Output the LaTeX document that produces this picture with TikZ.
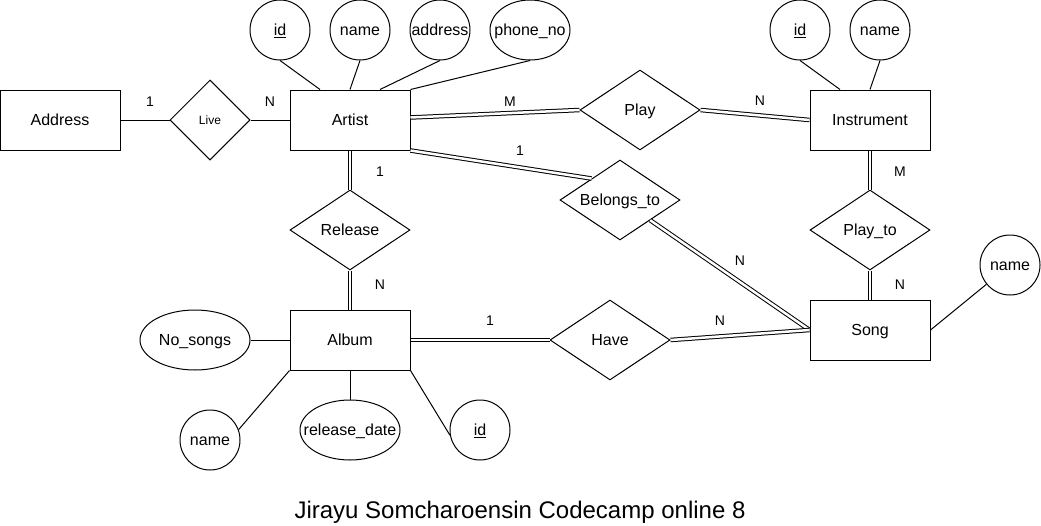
\documentclass[tikz,border=0pt]{standalone}
\usepackage{fontspec}
\setmainfont{Liberation Sans}
\usetikzlibrary{shapes.geometric,calc}
\begin{document}
\begin{tikzpicture}[x=1pt,y=-1pt,line width=1pt,
        txt/.style 2 args={font=\fontsize{#1}{18}\selectfont, text height=#2, text depth=0pt},
        entity/.style={draw, rectangle, minimum width=120pt, minimum height=60pt, inner sep=0pt, txt={16}{11.2pt}},
        attr/.style={draw, ellipse, minimum width=60pt, minimum height=60pt, inner sep=0pt, label={[txt={16}{11.2pt}, inner sep=0pt]center:#1}},
        rel/.style={draw, diamond, shape aspect=1.5, minimum width=120pt, minimum height=80pt, inner sep=0pt, txt={16}{11.2pt}},
        card/.style={inner sep=0pt, txt={14}{9.8pt}},
        dbl/.style={double, double distance=2.5pt}]
        \useasboundingbox (0,0) rectangle (1041,525);
        % Entidades
        \node[entity] (address) at (60,120) {Address};
        \node[entity] (artist) at (350,120) {Artist};
        \node[entity] (instrument) at (870,120) {Instrument};
        \node[entity] (album) at (350,340) {Album};
        \node[entity] (song) at (870,330) {Song};
        % Relaciones
        \node[rel, minimum width=80pt, txt={12}{8.4pt}] (live) at (210,120) {Live};
        \node[rel] (play) at (640,110) {Play};
        \node[rel] (belongsTo) at (620,200) {Belongs\_to};
        \node[rel] (release) at (350,230) {Release};
        \node[rel] (playTo) at (870,230) {Play\_to};
        \node[rel] (have) at (610,340) {Have};
        % Atributos
        \node[attr=\underline{id}] (artistId) at (280,30) {};
        \node[attr=name] (artistName) at (360,30) {};
        \node[attr=address] (artistAddress) at (440,30) {};
        \node[attr=phone\_no, minimum width=80pt] (phoneNo) at (530,30) {};
        \node[attr=\underline{id}] (instId) at (800,30) {};
        \node[attr=name] (instName) at (880,30) {};
        \node[attr=name] (songName) at (1010,265) {};
        \node[attr=No\_songs, minimum width=110pt] (noSongs) at (195,340) {};
        \node[attr=name] (albumName) at (210,440) {};
        \node[attr=release\_date, minimum width=100pt] (releaseDate) at (350,430) {};
        \node[attr=\underline{id}] (albumId) at (480,430) {};

        \draw (artistId.south) -- ([xshift=-30pt]artist.north);
        \draw (artistName.south) -- (artist.north);
        \draw (artistAddress.south) -- ([xshift=30pt]artist.north);
        \draw (phoneNo.south) -- (artist.north east);
        \draw (instId.south) -- ([xshift=-30pt]instrument.north);
        \draw (instName.south) -- (instrument.north);
        \draw (song.east) -- (songName);
        \draw (noSongs.east) -- (album.west);
        \draw (albumName.20) -- (album.south west);
        \draw (releaseDate.north) -- (album.south);
        \draw (album.south east) -- (albumId.190);

        \draw (address.east) -- (live.west);
        \draw (live.east) -- (artist.west);
        \draw[dbl] ([yshift=2.5pt]artist.east) -- (play.west);
        \draw[dbl] (play.east) -- (instrument.west);
        \draw[dbl] (artist.south east) -- ($(belongsTo.west)!0.53!(belongsTo.north)$);
        \draw[dbl] ($(belongsTo.south)!0.5!(belongsTo.east)$) -- (song.west);
        \draw[dbl] (artist.south) -- (release.north);
        \draw[dbl] (release.south) -- (album.north);
        \draw[dbl] (instrument.south) -- (playTo.north);
        \draw[dbl] (playTo.south) -- (song.north);
        \draw[dbl] (album.east) -- (have.west);
        \draw[dbl] (have.east) -- (song.west);

        \node[card] (cLiveAddr) at (150,102) {1};
        \node[card] (cLiveArt) at (270,102) {N};
        \node[card] (cPlayArt) at (510,102) {M};
        \node[card] (cPlayInst) at (760,101) {N};
        \node[card] (cBelArt) at (520,151) {1};
        \node[card] (cBelSong) at (740,261) {N};
        \node[card] (cRelArt) at (380,172) {1};
        \node[card] (cRelAlb) at (380,285) {N};
        \node[card] (cHaveAlb) at (490,321) {1};
        \node[card] (cHaveSong) at (720,321) {N};
        \node[card] (cPtInst) at (900,172) {M};
        \node[card] (cPtSong) at (900,285) {N};

        \node[txt={24}{16.8pt}] (title) at (520,510) {Jirayu Somcharoensin Codecamp online 8};
    \end{tikzpicture}
\end{document}
